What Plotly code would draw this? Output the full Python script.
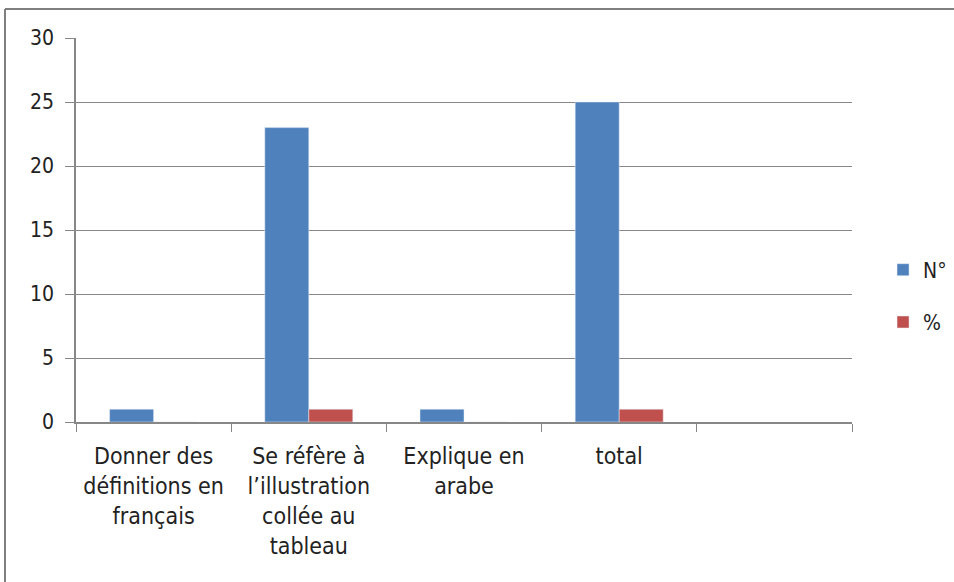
import plotly.graph_objects as go

categories = ["Donner des<br>définitions en<br>français",
              "Se réfère à<br>l’illustration<br>collée au<br>tableau",
              "Explique en<br>arabe",
              "total",
              " "]
n_values = [1, 23, 1, 25, None]
pct_values = [0, 1, 0, 1, None]
y_ticks = [0, 5, 10, 15, 20, 25, 30]

FONT = "DejaVu Sans Condensed, Liberation Sans Narrow, Liberation Sans, sans-serif"

fig = go.Figure()
fig.add_bar(x=categories, y=n_values, name="N°", marker_color="#4F81BD",
            legendgroup="a")
fig.add_bar(x=categories, y=pct_values, name="%", marker_color="#C0504D",
            legendgroup="b")

L, R, T, B = 76, 102, 38, 160
W, H = 954, 582
pw, ph = W - L - R, H - T - B

fig.update_layout(
    width=W, height=H,
    margin=dict(l=L, r=R, t=T, b=B, autoexpand=False),
    paper_bgcolor="white", plot_bgcolor="white",
    barmode="group", bargap=0.433, bargroupgap=0,
    font=dict(family=FONT, size=20, color="#222"),
    legend=dict(x=1.04, y=0.328, xanchor="left", yanchor="middle",
                font=dict(size=21), tracegroupgap=22, itemwidth=30,
                traceorder="grouped"),
    xaxis=dict(type="category", tickson="boundaries", ticks="outside",
               ticklen=8, tickcolor="#878787", showline=True,
               linecolor="#878787", linewidth=1.5, showgrid=False,
               tickfont=dict(size=23), ticklabelstandoff=13),
    yaxis=dict(range=[0, 30], tickvals=y_ticks, showgrid=True,
               gridcolor="#878787", gridwidth=1, ticks="outside", ticklen=9,
               tickcolor="#878787", showline=True, linecolor="#878787",
               linewidth=1.5, zeroline=False, tickfont=dict(size=21),
               ticklabelstandoff=7),
    shapes=[
        dict(type="line", xref="paper", yref="paper",
             x0=(5 - L) / pw, x1=(5 - L) / pw,
             y0=1 + (T - 9) / ph, y1=-(B + 10) / ph,
             line=dict(color="#7f7f7f", width=2)),
        dict(type="line", xref="paper", yref="paper",
             x0=(5 - L) / pw, x1=1 + (R + 10) / pw,
             y0=1 + (T - 9) / ph, y1=1 + (T - 9) / ph,
             line=dict(color="#7f7f7f", width=2)),
    ],
)

fig.write_html("out.html", config={"displayModeBar": False},
               post_script="document.body.style.margin='0';document.body.style.overflow='hidden';")
